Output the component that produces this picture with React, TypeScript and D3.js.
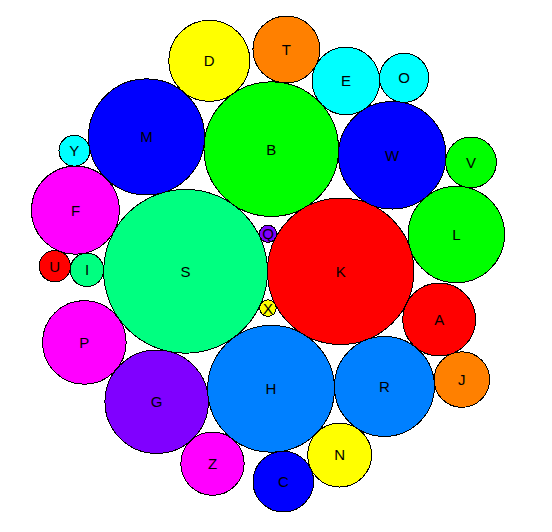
import React, { useMemo } from 'react';
import * as d3 from 'd3';

const WIDTH = 552;
const HEIGHT = 532;
const CENTER_X = 268;
const CENTER_Y = 264;
const MAX_RADIUS = 81.9;

// One bubble per letter, colour cycles through the palette by letter index
const labels = 'ABCDEFGHIJKLMNOPQRSTUVWXYZ'.split('');
const values = [19, 64.7, 13.1, 23.5, 16.3, 27.7, 38.2, 57.4, 4, 11, 76.5, 33.2, 48.1, 14.6, 8.6, 25, 1.06, 35.7, 95.8, 16, 3.5, 9.2, 41.3, 0.99, 3.4, 14.3];
const palette = ['#ff0000', '#00ff00', '#0000ff', '#ffff00', '#00ffff', '#ff00ff', '#8000ff', '#0080ff', '#00ff80', '#ff8000'];

// Order the main bubbles are handed to d3.packSiblings
const packOrder = ['S', 'K', 'X', 'Q', 'H', 'B', 'G', 'M', 'R', 'W', 'P', 'F', 'A', 'L', 'Z', 'N', 'D', 'E'];

// Remaining small bubbles sit in the outer notch between two neighbours
const nestLabels = ['T', 'C', 'J', 'V', 'O', 'I', 'U', 'Y'];
const nestLeft = ['B', 'H', 'A', 'W', 'E', 'S', 'I', 'F'];
const nestRight = ['E', 'N', 'R', 'L', 'W', 'F', 'F', 'M'];

type Bubble = { label: string; value: number; color: string; r: number; x: number; y: number };

// circle of radius r touching a and b from outside, on the side away from the origin
function nest(a: Bubble, b: Bubble, r: number): [number, number] {
  const dx = b.x - a.x, dy = b.y - a.y;
  const d = Math.hypot(dx, dy);
  const ra = a.r + r, rb = b.r + r;
  const l = (ra * ra - rb * rb + d * d) / (2 * d);
  const h = Math.sqrt(Math.max(0, ra * ra - l * l));
  const mx = a.x + (l * dx) / d, my = a.y + (l * dy) / d;
  const p1: [number, number] = [mx + (h * dy) / d, my - (h * dx) / d];
  const p2: [number, number] = [mx - (h * dy) / d, my + (h * dx) / d];
  return Math.hypot(p1[0], p1[1]) > Math.hypot(p2[0], p2[1]) ? p1 : p2;
}

export default function App() {
  const bubbles = useMemo(() => {
    const rScale = d3.scaleSqrt().domain([0, d3.max(values)!]).range([0, MAX_RADIUS]);
    const all: Bubble[] = labels.map((label, i) => ({
      label,
      value: values[i],
      color: palette[i % palette.length],
      r: rScale(values[i]),
      x: 0,
      y: 0,
    }));
    const byLabel = new Map(all.map((b) => [b.label, b]));

    d3.packSiblings(packOrder.map((l) => byLabel.get(l)!));

    nestLabels.forEach((l, i) => {
      const b = byLabel.get(l)!;
      const [x, y] = nest(byLabel.get(nestLeft[i])!, byLabel.get(nestRight[i])!, b.r);
      b.x = x;
      b.y = y;
    });

    // centre the whole cluster
    const x0 = d3.min(all, (d) => d.x - d.r)!, x1 = d3.max(all, (d) => d.x + d.r)!;
    const y0 = d3.min(all, (d) => d.y - d.r)!, y1 = d3.max(all, (d) => d.y + d.r)!;
    const ox = CENTER_X - (x0 + x1) / 2, oy = CENTER_Y - (y0 + y1) / 2;
    return all.map((d) => ({ ...d, x: d.x + ox, y: d.y + oy }));
  }, []);

  return (
    <svg
      width={WIDTH}
      height={HEIGHT}
      style={{ position: 'absolute', left: 0, top: 0, background: '#fff' }}
    >
      {bubbles.map((d) => (
        <g key={d.label} transform={`translate(${d.x},${d.y})`}>
          <circle r={d.r} fill={d.color} stroke="#000" strokeWidth={1} shapeRendering="crispEdges" />
          <text
            dy="0.36em"
            textAnchor="middle"
            fontSize={15}
            fontFamily="Liberation Sans, Arial, sans-serif"
            fill="#000"
          >
            {d.label}
          </text>
        </g>
      ))}
    </svg>
  );
}
